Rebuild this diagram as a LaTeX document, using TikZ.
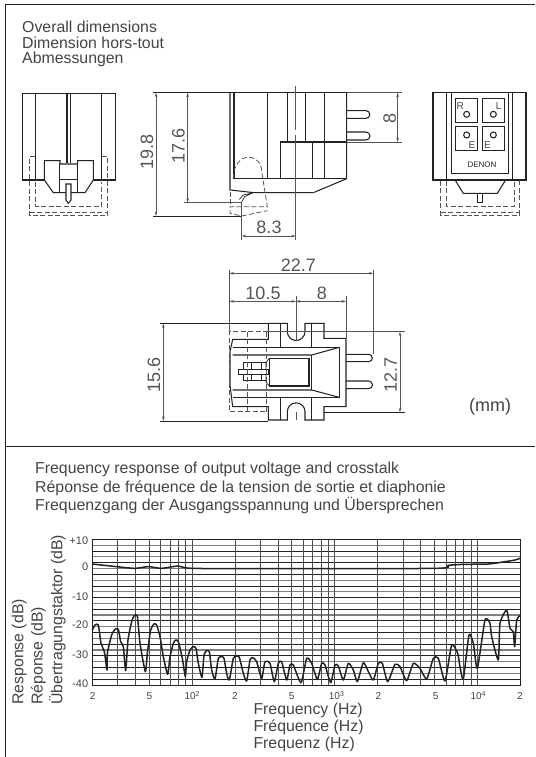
\documentclass[tikz,border=0pt]{standalone}
\usepackage{fontspec}
\setmainfont{Liberation Sans}
\definecolor{ink}{HTML}{222222}
\definecolor{txt}{HTML}{444444}
\definecolor{dim}{HTML}{555555}
\usetikzlibrary{arrows.meta}
\tikzset{
  x=1pt,y=-1pt,
  obj/.style={draw=ink,line width=1.05pt,line join=miter},
  thin line/.style={draw=dim,line width=0.7pt},
  dash line/.style={draw=dim,line width=0.8pt,dash pattern=on 5pt off 2.5pt},
  dimarr/.style={draw=dim,line width=0.6pt,{Stealth[length=4.5pt,width=2.6pt]}-{Stealth[length=4.5pt,width=2.6pt]}},
  lab/.style={text=txt,font=\fontsize{15.85}{17}\selectfont,inner sep=0pt,anchor=west},
  dimtxt/.style={text=dim,font=\fontsize{18}{20}\selectfont,inner sep=0pt},
  tick/.style={text=txt,font=\fontsize{10}{11}\selectfont,inner sep=0pt},
  ylab/.style={text=txt,font=\fontsize{11}{12}\selectfont,inner sep=0pt,anchor=east},
  pinlab/.style={text=txt,font=\fontsize{10}{11}\selectfont,inner sep=0pt},
}
\begin{document}
\begin{tikzpicture}
\useasboundingbox (0,0) rectangle (535,757);
% frame
\draw[draw=ink,line width=1pt] (535,5) -- (5,5) -- (5,757);
\draw[draw=ink,line width=1pt] (5,446.7) -- (535,446.7);
% texts
\node[lab] (t1) at (22,26.5) {Overall dimensions};
\node[lab] (t2) at (22,42.5) {Dimension hors-tout};
\node[lab] (t3) at (22,59) {Abmessungen};
\node[lab] (t4) at (35,469) {Frequency response of output voltage and crosstalk};
\node[lab] (t5) at (35,488) {Réponse de fréquence de la tension de sortie et diaphonie};
\node[lab] (t6) at (35,506) {Frequenzgang der Ausgangsspannung und Übersprechen};
\node[lab,font=\fontsize{18}{20}\selectfont] (mm) at (469,407) {(mm)};
% front view
\begin{scope}[shift={(0,70)},x=0.33333pt,y=-0.33333pt]
 \draw[obj] (67,70) rectangle (346,330);
 \draw[obj] (107,70) -- (107,330) (305,70) -- (305,330) (201,70) -- (201,278) (212,70) -- (212,278);
 \draw[obj,fill=white] (133,272) -- (180,272) -- (180,282) -- (233,282) -- (233,272) -- (280,272) -- (280,330) -- (255,368) -- (160,368) -- (133,330) -- cycle;
 \draw[obj] (178,282) -- (178,368) (233,282) -- (233,368) (178,328) -- (233,328);
 \draw[obj,fill=white] (198,342) -- (213,342) -- (213,390) -- (205,400) -- (198,390) -- cycle;
 \draw[dash line] (305,260) -- (323,260) -- (323,437) -- (89,437) -- (89,260) -- (105,260);
 \draw[dash line] (89,428) -- (323,428);
 \draw[dash line] (107,335) -- (107,409) -- (305,409) -- (305,335);
\end{scope}
% side view
\begin{scope}[shift={(150,80)},x=0.33333pt,y=-0.33333pt]
 \draw[thin line,draw=ink] (10,38) -- (240,38);
 \draw[obj] (240,38) -- (590,38);
 \draw[obj] (240,38) -- (240,330) -- (312,338) -- (490,338);
 \draw[obj] (252,38) -- (252,296) -- (590,296);
 \draw[obj] (352,38) -- (352,296);
 \draw[obj] (412,38) -- (412,186) (466,38) -- (466,186);
 \draw[obj] (392,296) -- (392,186) -- (590,186);
 \draw[obj] (487,186) -- (487,296);
 \draw[obj] (523,38) -- (523,296);
 \draw[obj] (590,38) -- (590,296) -- (490,338);
 \draw[thin line] (590,186) -- (756,186);
 \draw[thin line] (590,38) -- (756,38);
 \draw[obj] (590,92) -- (648,92) arc[start angle=-90,end angle=90,radius=11.5] -- (590,115);
 \draw[obj] (590,156) -- (648,156) arc[start angle=-90,end angle=90,radius=12] -- (590,180);
 \draw[dimarr] (743,38) -- (743,186);
 \node[dimtxt,rotate=90] (d8) at (719,115) {8};
 % stylus holder
 \draw[obj,line width=0.7pt] (268,358) -- (280,345) -- (312,338) (275,366) -- (284,350) -- (305,340);
 % dashed
 \draw[dash line] (250,296) .. controls (250,250) and (275,232) .. (295,232) .. controls (320,232) and (335,250) .. (335,275) -- (352,380) -- (240,380) -- (240,400) -- (275,408) -- (352,392);
 \draw[dash line] (240,335) -- (240,380);
 % dims
 \draw[thin line,draw=ink] (10,408) -- (275,408);
 \draw[thin line] (103,368) -- (275,368);
 \draw[thin line] (275,368) -- (275,480);
 \draw[thin line] (437,18) -- (437,150) (437,165) -- (437,480);
 \draw[dimarr] (18,38) -- (18,408);
 \draw[dimarr] (113,38) -- (113,368);
 \draw[dimarr] (275,468) -- (437,468);
 \node[dimtxt,rotate=90] (d198) at (-9,215) {19.8};
 \node[dimtxt,rotate=90] (d176) at (85,198) {17.6};
 \node[dimtxt] (d83) at (357,443) {8.3};
\end{scope}
% rear view
\begin{scope}[shift={(270,70)},x=0.33333pt,y=-0.33333pt]
 \draw[obj] (489,68) rectangle (768,330);
 \draw[obj] (530,68) -- (530,330) (728,68) -- (728,330);
 \draw[obj] (545,68) -- (545,310) -- (715,310) -- (715,68);
 \draw[obj] (557,85) rectangle (622,157) (638,85) rectangle (704,157) (557,170) rectangle (622,242) (638,170) rectangle (704,242);
 \draw[obj] (590,133) circle[radius=9] (670,133) circle[radius=9] (590,195) circle[radius=9] (670,195) circle[radius=9];
 \node[pinlab] (r) at (571,109) {R};
 \node[pinlab] (l) at (686,108) {L};
 \node[pinlab] (e1) at (606,226) {E};
 \node[pinlab] (e2) at (652,226) {E};
 \node[pinlab,font=\fontsize{8}{10}\selectfont,text=ink] (denon) at (636,285) {DENON};
 \draw[obj] (557,333) -- (580,370) -- (682,370) -- (705,333);
 \draw[obj] (622,370) -- (622,397) -- (637,397) -- (637,370);
 \draw[dash line] (512,333) -- (512,435) -- (748,435) -- (748,333);
 \draw[dash line] (512,427) -- (748,427);
 \draw[dash line] (529,333) -- (529,410) -- (732,410) -- (732,333);
\end{scope}
% plan view
\begin{scope}[shift={(210,310)},x=0.33333pt,y=-0.33333pt]
 \draw[obj] (68,88) -- (175,88) -- (175,40) -- (232,40) -- (232,65) arc[start angle=180,end angle=0,radius=26.5] -- (285,40) -- (342,40) -- (342,85) -- (408,85) -- (408,290) -- (342,290) -- (342,330) -- (285,330) -- (285,305) arc[start angle=0,end angle=-180,radius=26.5] -- (232,330) -- (175,330) -- (175,290) -- (68,290) -- (60,225) -- (60,125) -- cycle;
 \draw[obj] (212,40) -- (212,112) (305,40) -- (305,112) (212,262) -- (212,330) (305,262) -- (305,330);
 \draw[obj] (68,112) -- (388,112) -- (388,262) -- (68,262);
 \draw[obj] (68,135) -- (305,135) -- (388,112) (68,240) -- (305,240) -- (388,262);
 \draw[obj] (305,135) -- (305,240);
 \draw[obj] (178,145) rectangle (297,228);
 \draw[obj,line width=0.7pt] (168,157) -- (178,145) (168,216) -- (178,228) (168,157) -- (168,216);
 \draw[obj,line width=0.7pt] (100,158) -- (168,158) (100,212) -- (168,212) (100,158) -- (100,212) (125,158) -- (125,212) (155,158) -- (155,212);
 \draw[obj,fill=white,line width=0.7pt] (86,178) rectangle (176,192);
 % pins
 \draw[obj] (408,133) -- (476,133) arc[start angle=-90,end angle=90,radius=11] -- (408,155);
 \draw[obj] (408,213) -- (476,213) arc[start angle=-90,end angle=90,radius=11.5] -- (408,236);
 % dashed
 \draw[dash line] (175,65) -- (58,65) -- (58,305) -- (172,305);
 \draw[dash line] (113,65) -- (113,305);
 \draw[dash line] (168,65) -- (168,305);
 % dims
 \draw[thin line] (58,-120) -- (58,65);
 \draw[thin line] (258,-42) -- (258,92) (258,305) -- (258,330);
 \draw[thin line] (408,-42) -- (408,85);
 \draw[thin line] (490,-120) -- (490,133);
 \draw[thin line,draw=ink] (-150,40) -- (175,40);
 \draw[thin line,draw=ink] (-150,333) -- (175,333);
 \draw[thin line] (175,65) -- (585,65);
 \draw[thin line,draw=ink] (342,307) -- (585,307);
 \draw[dimarr] (58,-110) -- (490,-110);
 \draw[dimarr] (58,-26) -- (258,-26);
 \draw[dimarr] (258,-26) -- (408,-26);
 \draw[dimarr] (-140,40) -- (-140,333);
 \draw[dimarr] (570,65) -- (570,307);
 \node[dimtxt] (d227) at (265,-135) {22.7};
 \node[dimtxt] (d105) at (159,-51) {10.5};
 \node[dimtxt] (d8b) at (336,-51) {8};
 \node[dimtxt,rotate=90] (d156) at (-168,195) {15.6};
 \node[dimtxt,rotate=90] (d127) at (542,195) {12.7};
\end{scope}
% chart grid
\foreach \i in {1,...,24}{
  \pgfmathsetmacro{\yy}{539.3+\i*5.828}
  \pgfmathparse{int(mod(\i,2))}
  \ifnum\pgfmathresult=0
    \draw[draw=ink,line width=0.85pt] (92.3,\yy) -- (520,\yy);
  \else
    \draw[draw=black!50,line width=1.2pt] (92.3,\yy) -- (520,\yy);
  \fi
}
\foreach \f in {30,40,50,60,70,80,90,100,200,300,400,500,600,700,800,900,1000,2000,3000,4000,5000,6000,7000,8000,9000,10000}{
  \pgfmathsetmacro{\xx}{92.3+142.8*(log10(\f)-1.30103)}
  \draw[draw=ink!80,line width=0.85pt] (\xx,539.3) -- (\xx,685);
}
\draw[draw=ink,line width=1pt] (92.3,539.3) rectangle (520,685);
% curves
\begin{scope}[shift={(0,530)},x=0.33333pt,y=-0.33333pt]
 \draw[draw=ink,line width=1.5pt,line join=round] plot[smooth,tension=0.45] coordinates {(277,102)(350,110)(405,115)(445,110)(485,115)(535,108)(577,115)(810,116)(1305,115)(1345,106)(1395,103)(1465,102)(1515,95)(1545,90)(1560,85)};
 \draw[draw=ink,line width=1.5pt,line join=round] plot[smooth,tension=0.35] coordinates {(277,300)(285,285)(295,285)(303,340)(313,365)(321,420)(322,370)(335,315)(345,298)(355,298)(362,335)(370,350)(377,422)(384,330)(395,275)(402,258)(412,258)(420,340)(436,425)(442,370)(452,300)(462,282)(470,285)(480,320)(490,380)(503,433)(510,380)(520,340)(527,330)(535,335)(547,385)(556,440)(560,395)(570,360)(580,350)(588,355)(595,400)(606,442)(612,375)(620,362)(628,365)(635,420)(645,447)(655,385)(665,380)(672,385)(680,430)(688,450)(700,385)(710,378)(718,382)(730,430)(740,453)(750,390)(758,383)(770,395)(785,445)(795,395)(810,400)(823,455)(835,400)(845,395)(860,450)(870,405)(880,405)(903,458)(920,385)(935,400)(952,448)(965,400)(975,405)(992,458)(1005,405)(1015,408)(1030,450)(1045,400)(1060,420)(1072,455)(1090,398)(1105,425)(1120,450)(1135,400)(1147,400)(1163,455)(1185,403)(1200,410)(1220,452)(1240,400)(1260,415)(1280,447)(1300,385)(1315,385)(1335,453)(1355,345)(1373,370)(1380,410)(1390,447)(1407,315)(1420,340)(1432,415)(1455,270)(1470,280)(1475,320)(1495,390)(1500,280)(1520,240)(1530,295)(1540,305)(1544,350)(1550,270)(1560,257)};
 \node[ylab] (y10) at (265,33) {+10};
 \node[ylab] (y0) at (265,110) {0};
 \node[ylab] (ym10) at (265,200) {-10};
 \node[ylab] (ym20) at (265,285) {-20};
 \node[ylab] (ym30) at (265,375) {-30};
 \node[ylab] (ym40) at (265,462) {-40};
 \node[tick] (x1) at (278,497) {2};
 \node[tick] (x2) at (448,497) {5};
 \node[tick] (x3) at (577,497) {10\textsuperscript{2}};
 \node[tick] (x4) at (705,497) {2};
 \node[tick] (x5) at (875,497) {5};
 \node[tick] (x6) at (1010,497) {10\textsuperscript{3}};
 \node[tick] (x7) at (1135,497) {2};
 \node[tick] (x8) at (1307,497) {5};
 \node[tick] (x9) at (1435,497) {10\textsuperscript{4}};
 \node[tick] (x10) at (1560,497) {2};
 \node[lab] (f1) at (760,540) {Frequency (Hz)};
 \node[lab] (f2) at (760,593) {Fréquence (Hz)};
 \node[lab] (f3) at (760,643) {Frequenz (Hz)};
 \node[lab,rotate=90] (r1) at (58,525) {Response (dB)};
 \node[lab,rotate=90] (r2) at (115,525) {Réponse (dB)};
 \node[lab,rotate=90] (r3) at (172,525) {Übertragungstaktor (dB)};
\end{scope}
\end{tikzpicture}
\end{document}
